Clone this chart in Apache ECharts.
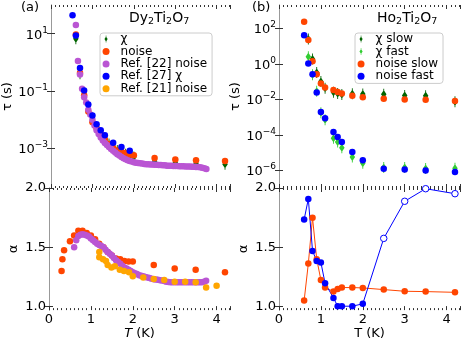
<!DOCTYPE html>
<html>
<head>
<meta charset="utf-8">
<script src="https://cdn.jsdelivr.net/npm/echarts@6/dist/echarts.min.js"></script>
<style>
html, body { margin: 0; padding: 0; background: #fff; }
#main { width: 463px; height: 341px; }
</style>
</head>
<body>
<div id="main"></div>
<script>
// ---- (a) Dy2Ti2O7 ----
// tau values are read as log10(tau / s)
var dyChiT = [0.6, 0.7, 0.8, 0.9, 1.0, 1.1, 1.2, 1.3, 1.4, 1.5, 1.6, 1.7, 1.8, 1.9, 2.0, 2.5, 3.0, 3.5, 4.2];
var dyChiLogTau = [0.82, -0.4, -1.15, -1.7, -2.05, -2.35, -2.55, -2.72, -2.85, -2.97, -3.07, -3.15, -3.2, -3.25, -3.3, -3.45, -3.5, -3.52, -3.55];

var dyNoiseT = [0.3, 0.32, 0.36, 0.5, 0.6, 0.7, 0.8, 0.9, 1.0, 1.1, 1.2, 1.3, 1.4, 1.5, 1.6, 1.7, 1.8, 1.9, 2.0, 2.5, 3.0, 3.5, 4.2];
var dyNoiseLogTau = [null, null, null, null, 0.97, -0.37, -1.15, -1.71, -2.09, -2.29, -2.5, -2.69, -2.85, -2.98, -3.07, -3.12, -3.16, -3.22, -3.24, -3.33, -3.39, -3.41, -3.44];
var dyNoiseAlpha = [1.30, 1.40, 1.475, 1.55, 1.60, 1.64, 1.64, 1.62, 1.60, 1.567, 1.53, 1.50, 1.46, 1.43, 1.405, 1.40, 1.385, 1.38, 1.38, 1.35, 1.32, 1.31, 1.29];

var ref22T = [0.6, 0.65, 0.7, 0.75, 0.8, 0.85, 0.9, 0.95, 1.0, 1.05, 1.1, 1.15, 1.2, 1.25, 1.3, 1.35, 1.4, 1.45, 1.5, 1.55,
  1.6, 1.65, 1.7, 1.75, 1.8, 1.85, 1.9, 1.95, 2.0, 2.05, 2.1, 2.15, 2.2, 2.25, 2.3, 2.35, 2.4, 2.45, 2.5, 2.55,
  2.6, 2.65, 2.7, 2.75, 2.8, 2.85, 2.9, 2.95, 3.0, 3.05, 3.1, 3.15, 3.2, 3.25, 3.3, 3.35, 3.4, 3.45, 3.5, 3.55,
  3.6, 3.65, 3.7, 3.75];
var ref22LogTau = [1.30, 0.05, -0.42, -0.92, -1.22, -1.40, -1.65, -1.82, -2.00, -2.20, -2.37, -2.50, -2.62, -2.72, -2.81, -2.88, -2.95, -3.02, -3.08, -3.14,
  -3.20, -3.25, -3.30, -3.34, -3.38, -3.41, -3.44, -3.46, -3.48, -3.50, -3.51, -3.52, -3.53, -3.54, -3.55, -3.55, -3.56, -3.56, -3.57, -3.57,
  -3.58, -3.58, -3.59, -3.59, -3.60, -3.60, -3.60, -3.61, -3.61, -3.61, -3.62, -3.62, -3.62, -3.63, -3.63, -3.63, -3.64, -3.64, -3.65, -3.65,
  -3.66, -3.67, -3.69, -3.72];
var ref22Alpha = [1.50, 1.56, 1.595, 1.605, 1.61, 1.605, 1.60, 1.59, 1.575, 1.56, 1.545, 1.53, 1.52, 1.51, 1.50, 1.48, 1.46, 1.445, 1.43, 1.41,
  1.39, 1.375, 1.36, 1.345, 1.33, 1.32, 1.31, 1.30, 1.29, 1.28, 1.275, 1.265, 1.26, 1.255, 1.25, 1.245, 1.24, 1.235, 1.23, 1.228,
  1.225, 1.222, 1.22, 1.215, 1.21, 1.208, 1.205, 1.205, 1.205, 1.204, 1.204, 1.204, 1.205, 1.205, 1.205, 1.205, 1.205, 1.205, 1.205, 1.205,
  1.205, 1.205, 1.21, 1.218];

var ref27T = [0.52, 0.6, 0.7, 0.8, 0.9, 1.0, 1.1, 1.2, 1.3, 1.5, 1.7, 1.9];
var ref27LogTau = [1.64, 0.94, -0.2, -0.98, -1.47, -1.85, -2.16, -2.37, -2.54, -2.80, -2.95, -3.08];

var ref21T = [1.2, 1.2, 1.29, 1.36, 1.4, 1.49, 1.57, 1.69, 1.79, 1.91, 2.0, 2.25, 2.5, 2.75, 3.0, 3.25, 3.5, 3.75, 4.0];
var ref21Alpha = [1.46, 1.415, 1.40, 1.385, 1.35, 1.33, 1.34, 1.31, 1.30, 1.29, 1.255, 1.245, 1.232, 1.224, 1.21, 1.21, 1.205, 1.16, 1.175];

// ---- (b) Ho2Ti2O7 ----
var hoChiT = [0.7, 0.8, 0.9, 1.0, 1.1, 1.3, 1.4, 1.5, 1.75, 2.0, 2.5, 3.0, 3.5, 4.2];
var hoChiSlowLogTau = [1.4, 0.27, -0.48, -1.0, -1.38, -1.6, -1.67, -1.73, -1.68, -1.7, -1.72, -1.78, -1.8, -2.14];
var hoChiFastLogTau = [0.4, -0.62, -1.55, -2.75, -3.15, -4.2, -4.4, -4.73, -5.25, -5.6, -5.85, -5.85, -5.9, -5.88];

var hoNoiseT = [0.6, 0.7, 0.8, 0.9, 1.0, 1.1, 1.3, 1.4, 1.5, 1.75, 2.0, 2.5, 3.0, 3.5, 4.2];
var hoSlowLogTau = [2.37, 1.34, 0.15, -0.58, -1.1, -1.33, -1.48, -1.58, -1.67, -1.8, -1.88, -1.97, -2.01, -2.03, -2.09];
var hoFastLogTau = [1.62, 0.02, -0.58, -1.61, -2.71, -3.07, -3.84, -4.12, -4.40, -4.97, -5.44, -5.91, -5.96, -6.02, -6.1];
var hoSlowAlpha = [1.05, 1.363, 1.749, 1.40, 1.224, 1.16, 1.126, 1.148, 1.16, 1.16, 1.157, 1.143, 1.129, 1.126, 1.12];
var hoFastAlpha = [1.734, 1.908, 1.469, 1.385, 1.372, 1.196, 1.073, 1.003, 1.003, 1.003, 1.023, 1.575, 1.888, 1.994, 1.952];
var hoFastOpenFrom = 2.5; // open markers from this T on

var xTicks = [0, 1, 2, 3, 4];
var dyTauTicks = [1e-3, 1e-1, 1e1];
var hoTauTicks = [1e-6, 1e-4, 1e-2, 1, 1e2];
var alphaTicks = [1, 1.5, 2];

var FONT = 'DejaVu Sans';
var SPINE = '#999';
var TICK = '#333';
// diamond with a short error bar through it
var CHI_SYMBOL = 'path://M2.1,0 L2.9,0 L2.9,2 L5,5.5 L2.9,9 L2.9,11 L2.1,11 L2.1,9 L0,5.5 L2.1,2 Z';
var CHI_ICON = 'path://M0,-2 M19,9 M9.1,-2 L9.9,-2 L9.9,0.3 L12,3.5 L9.9,6.7 L9.9,9 L9.1,9 L9.1,6.7 L7,3.5 L9.1,0.3 Z';

function pow10(v) { return v == null ? null : Math.pow(10, v); }
function pts(xs, ys, f) {
  return xs.map(function (x, i) { return [x, f ? f(ys[i]) : ys[i]]; })
    .filter(function (p) { return p[1] != null; });
}
function expLabel(v) {
  var e = Math.round(Math.log10(v));
  return '{b|10}{e|' + (e < 0 ? '\u2212' + (-e) : e) + '}';
}

var chart = echarts.init(document.getElementById('main'));

var grids = [
  { left: 49, top: 5, width: 181, height: 183 },
  { left: 49, top: 188, width: 181, height: 123 },
  { left: 279, top: 5, width: 181, height: 183 },
  { left: 279, top: 188, width: 181, height: 123 }
];

var xAxes = [];
var yAxes = [];
grids.forEach(function (g, gi) {
  var isBottom = gi % 2 === 1;
  ['bottom', 'top'].forEach(function (pos) {
    var showLab = isBottom && pos === 'bottom';
    xAxes.push({
      type: 'value', gridIndex: gi, position: pos, min: 0, max: 4.32, interval: 1,
      axisLine: { show: false },
      axisTick: { inside: true, length: 4, lineStyle: { color: TICK } },
      minorTick: { show: true, splitNumber: 10, length: 2, lineStyle: { color: TICK } },
      splitLine: { show: false },
      axisLabel: {
        show: showLab, customValues: xTicks, margin: 3,
        fontFamily: FONT, fontSize: 13, color: '#000'
      },
      name: showLab ? (gi === 1 ? '{i|T} (K)' : 'T (K)') : '',
      nameLocation: 'middle', nameGap: 15,
      nameTextStyle: {
        fontFamily: FONT, fontSize: 13, color: '#000',
        rich: { i: { fontFamily: FONT, fontSize: 13, fontStyle: 'italic' } }
      }
    });
  });
  ['left', 'right'].forEach(function (pos) {
    var left = pos === 'left';
    var ax = {
      gridIndex: gi, position: pos,
      axisLine: { show: true, lineStyle: { color: SPINE, width: 1 } },
      splitLine: { show: false },
      nameLocation: 'middle', nameRotate: 90,
      nameTextStyle: { fontFamily: FONT, fontSize: 13, color: '#000' }
    };
    if (!isBottom) {
      var tks = gi === 0 ? dyTauTicks : hoTauTicks;
      ax.type = 'log';
      ax.min = gi === 0 ? Math.pow(10, -4.38) : 1e-7;
      ax.max = gi === 0 ? 100 : Math.pow(10, 3.32);
      ax.axisTick = { inside: true, length: 4, customValues: tks, lineStyle: { color: TICK } };
      ax.axisLabel = {
        show: left, customValues: tks, margin: 3, formatter: expLabel,
        rich: {
          b: { fontFamily: FONT, fontSize: 13, color: '#000', verticalAlign: 'bottom' },
          e: { fontFamily: FONT, fontSize: 9, color: '#000', verticalAlign: 'top', padding: [0, 0, 7, 0] }
        }
      };
      if (left) { ax.name = '\u03c4 (s)'; ax.nameGap = 37; }
    } else {
      ax.type = 'value';
      ax.min = 0.97;
      ax.max = 2.0;
      ax.axisTick = { inside: true, length: 4, customValues: alphaTicks, lineStyle: { color: TICK } };
      ax.axisLabel = {
        show: left, customValues: alphaTicks, margin: 3,
        formatter: function (v) { return v.toFixed(1); },
        fontFamily: FONT, fontSize: 13, color: '#000'
      };
      if (left) { ax.name = '\u03b1'; ax.nameGap = 29; }
    }
    yAxes.push(ax);
  });
});

function dots(name, panel, data, color, extra) {
  var s = {
    name: name, type: 'scatter', xAxisIndex: panel * 2, yAxisIndex: panel * 2,
    data: data, symbol: 'circle', symbolSize: 6.5,
    itemStyle: { color: color, opacity: 1 }
  };
  for (var k in extra) s[k] = extra[k];
  return s;
}

var chiStyle = { symbol: CHI_SYMBOL, symbolSize: [5.5, 11] };

var series = [
  // (a) tau
  dots('\u03c7', 0, pts(dyChiT, dyChiLogTau, pow10), '#006400', chiStyle),
  dots('noise', 0, pts(dyNoiseT, dyNoiseLogTau, pow10), '#ff4500'),
  dots('Ref. [22] noise', 0, pts(ref22T, ref22LogTau, pow10), '#ba55d3'),
  dots('Ref. [27] \u03c7', 0, pts(ref27T, ref27LogTau, pow10), '#0000ff'),
  // (a) alpha
  dots('noise', 1, pts(dyNoiseT, dyNoiseAlpha), '#ff4500'),
  dots('Ref. [22] noise', 1, pts(ref22T, ref22Alpha), '#ba55d3'),
  dots('Ref. [21] noise', 1, pts(ref21T, ref21Alpha), '#ffa500'),
  // (b) tau
  dots('\u03c7 slow', 2, pts(hoChiT, hoChiSlowLogTau, pow10), '#006400', chiStyle),
  dots('\u03c7 fast', 2, pts(hoChiT, hoChiFastLogTau, pow10), '#32cd32', chiStyle),
  dots('noise slow', 2, pts(hoNoiseT, hoSlowLogTau, pow10), '#ff4500'),
  dots('noise fast', 2, pts(hoNoiseT, hoFastLogTau, pow10), '#0000ff'),
  // (b) alpha
  {
    name: 'noise slow', type: 'line', xAxisIndex: 6, yAxisIndex: 6,
    data: pts(hoNoiseT, hoSlowAlpha), symbol: 'circle', symbolSize: 6.5, showAllSymbol: true,
    lineStyle: { color: '#ff4500', width: 1 }, itemStyle: { color: '#ff4500' }
  },
  {
    name: 'noise fast', type: 'line', xAxisIndex: 6, yAxisIndex: 6,
    data: pts(hoNoiseT, hoFastAlpha).map(function (p) {
      return p[0] >= hoFastOpenFrom
        ? { value: p, symbol: 'circle', itemStyle: { color: '#fff', borderColor: '#0000ff', borderWidth: 1 } }
        : { value: p };
    }),
    symbol: 'circle', symbolSize: 6.5, showAllSymbol: true,
    lineStyle: { color: '#0000ff', width: 1 }, itemStyle: { color: '#0000ff' }
  }
];
series.forEach(function (s) { s.animation = false; s.emphasis = { disabled: true }; });

function legend(left, names) {
  return {
    orient: 'vertical', left: left, top: 33, selectedMode: false,
    data: names.map(function (n) { return { name: n, icon: n.indexOf('\u03c7') === 0 ? CHI_ICON : 'circle' }; }),
    itemWidth: 19, itemHeight: 7, itemGap: 0.2,
    padding: [0, 5, 1, 0],
    textStyle: { fontFamily: FONT, fontSize: 12, lineHeight: 12.2, color: '#000' },
    backgroundColor: 'rgba(255,255,255,0.8)', borderColor: '#ccc', borderWidth: 1, borderRadius: 3
  };
}

var subRich = {
  n: { fontFamily: FONT, fontSize: 14, fontWeight: 'normal', color: '#000', verticalAlign: 'top' },
  s: { fontFamily: FONT, fontSize: 9.5, fontWeight: 'normal', color: '#000', verticalAlign: 'bottom', padding: [6, 0, 0, 0] }
};

chart.setOption({
  animation: false,
  grid: grids,
  xAxis: xAxes,
  yAxis: yAxes,
  legend: [
    legend(100, ['\u03c7', 'noise', 'Ref. [22] noise', 'Ref. [27] \u03c7', 'Ref. [21] noise']),
    legend(355, ['\u03c7 slow', '\u03c7 fast', 'noise slow', 'noise fast'])
  ],
  title: [
    { text: '{n|Dy}{s|2}{n|Ti}{s|2}{n|O}{s|7}', left: 129, top: 11, padding: 0, textStyle: { fontWeight: 'normal', rich: subRich } },
    { text: '{n|Ho}{s|2}{n|Ti}{s|2}{n|O}{s|7}', left: 377, top: 11, padding: 0, textStyle: { fontWeight: 'normal', rich: subRich } }
  ],
  graphic: [
    { type: 'text', left: 21, top: 1, style: { text: '(a)', fontFamily: FONT, fontSize: 13, fill: '#000' } },
    { type: 'text', left: 252, top: 1, style: { text: '(b)', fontFamily: FONT, fontSize: 13, fill: '#000' } }
  ],
  series: series
});
</script>
</body>
</html>
